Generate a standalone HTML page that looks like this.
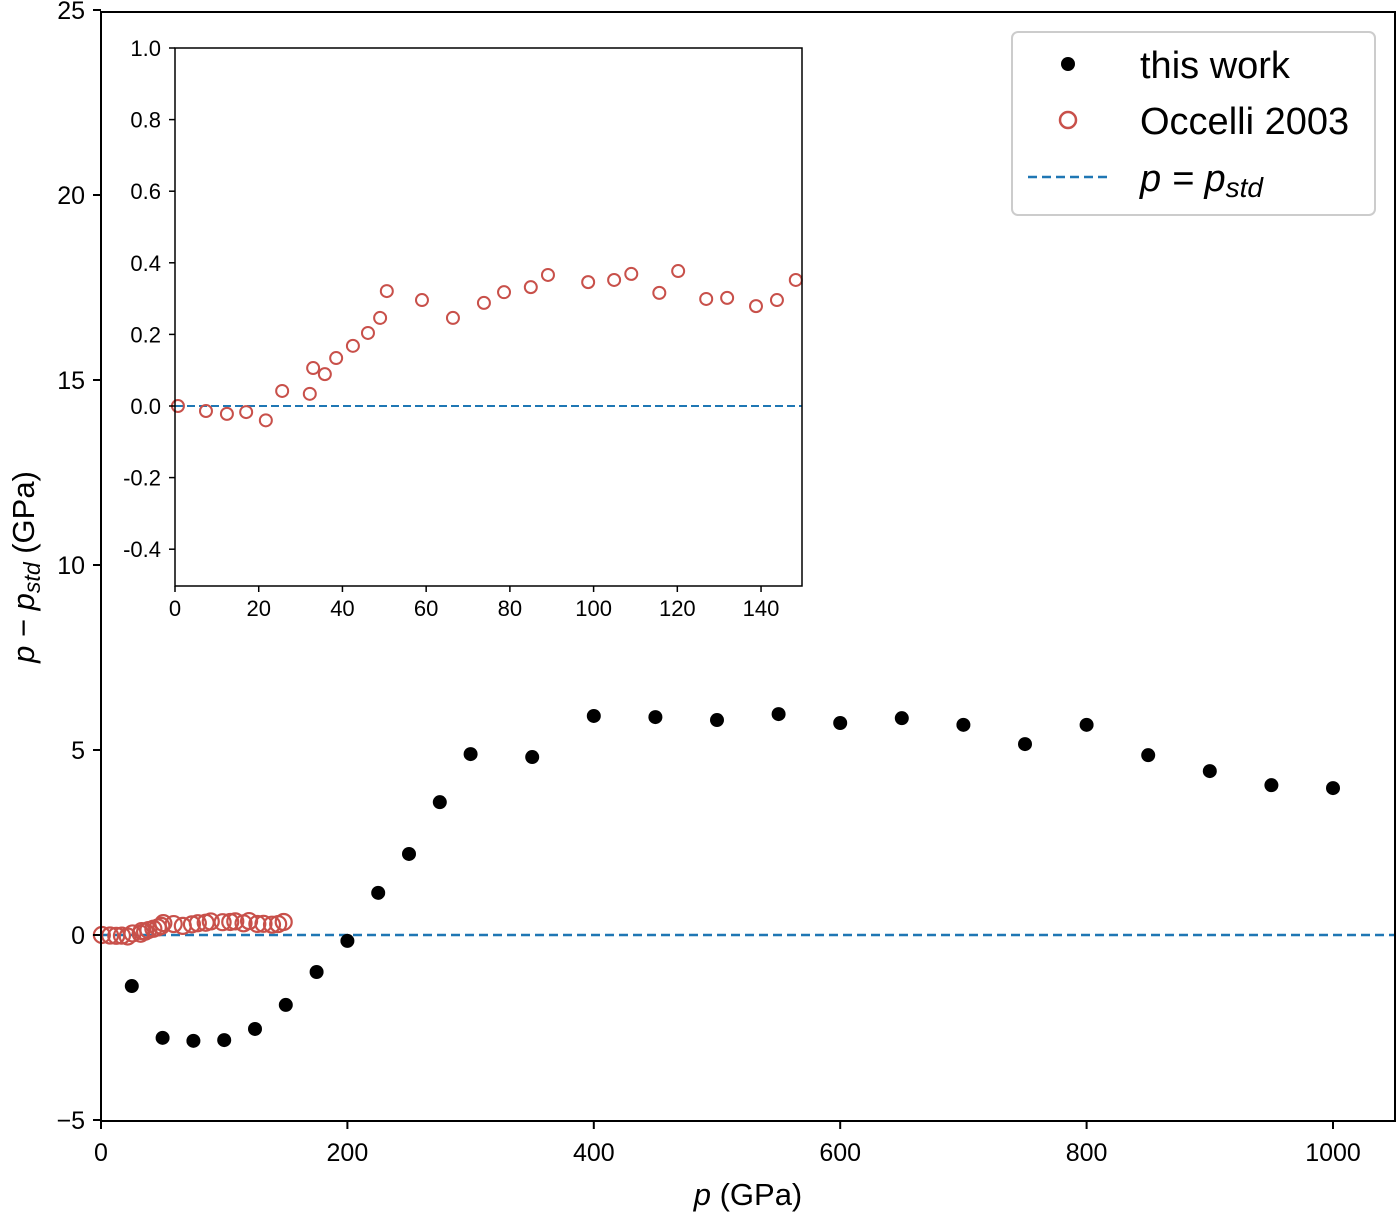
<!DOCTYPE html>
<html><head><meta charset="utf-8"><style>
body{margin:0;background:#fff}
svg{font-family:"Liberation Sans",sans-serif}
</style></head><body>
<svg id="c" width="1400" height="1215" viewBox="0 0 1400 1215">
<g id="main"></g>
<g id="inset"></g>
<g id="legend">
<rect x="1012" y="32" width="363" height="183" rx="6" fill="#fff" stroke="#ccc" stroke-width="2"/>
<circle cx="1068" cy="64" r="7" fill="#000"/>
<text x="1140" y="78" font-size="38">this work</text>
<circle cx="1068" cy="120" r="8" fill="none" stroke="#c8504a" stroke-width="2.5"/>
<text x="1140" y="134" font-size="38">Occelli 2003</text>
<line x1="1028" y1="177" x2="1108" y2="177" stroke="#1f77b4" stroke-width="2.5" stroke-dasharray="9,5"/>
<text x="1140" y="191" font-size="38" font-style="italic">p = p<tspan font-size="28" dy="6">std</tspan></text>
</g>
</svg>
<script>
const blackP=[25,50,75,100,125,150,175,200,225,250,275,300,350,400,450,500,550,600,650,700,750,800,850,900,950,1000];
const blackD=[-1.38,-2.78,-2.86,-2.84,-2.54,-1.89,-1.0,-0.16,1.14,2.19,3.59,4.89,4.81,5.92,5.89,5.81,5.97,5.73,5.86,5.68,5.16,5.68,4.86,4.43,4.05,3.97];
const occP=[0.7,7.4,12.4,17,21.7,25.6,32.2,33,35.8,38.5,42.5,46.1,49,50.6,59,66.4,73.8,78.6,85,89.1,98.7,104.9,109,115.7,120.2,126.9,131.9,138.8,143.8,148.3];
const occD=[0.0,-0.014,-0.022,-0.017,-0.04,0.042,0.034,0.106,0.089,0.134,0.168,0.204,0.246,0.321,0.296,0.246,0.288,0.318,0.332,0.366,0.346,0.352,0.369,0.316,0.377,0.299,0.302,0.279,0.296,0.352];
const mainXTicks=[0,200,400,600,800,1000];
const mainYTicks=[-5,0,5,10,15,20,25];
const insXTicks=[0,20,40,60,80,100,120,140];
const insYTicks=[-0.4,-0.2,0.0,0.2,0.4,0.6,0.8,1.0];
const NS="http://www.w3.org/2000/svg";
function mk(p,t,a){const e=document.createElementNS(NS,t);for(const k in a)e.setAttribute(k,a[k]);p.appendChild(e);return e;}
const mx=v=>101+v*1.232, my=v=>935-v*37;
const M=document.getElementById('main');
let e=mk(M,'line',{x1:mx(0),x2:mx(1050),y1:my(0),y2:my(0),stroke:'#1f77b4','stroke-width':2.5,'stroke-dasharray':'9,5'});


blackP.forEach((p,i)=>{const c=mk(M,'circle',{cx:mx(p),cy:my(blackD[i]),r:7,fill:'#000'});

});
occP.forEach((p,i)=>{const c=mk(M,'circle',{cx:mx(p),cy:my(occD[i]),r:8,fill:'none',stroke:'#c8504a','stroke-width':2.2});

});
e=mk(M,'rect',{x:101,y:12,width:1294,height:1109,fill:'none',stroke:'#000','stroke-width':2});


mainXTicks.forEach(t=>{mk(M,'line',{x1:mx(t),x2:mx(t),y1:1121,y2:1129,stroke:'#000','stroke-width':2});
const tx=mk(M,'text',{x:mx(t),y:1161,'font-size':25,'text-anchor':'middle'});tx.textContent=t;

});
mainYTicks.forEach(t=>{mk(M,'line',{x1:93,x2:101,y1:my(t),y2:my(t),stroke:'#000','stroke-width':2});
const tx=mk(M,'text',{x:85,y:my(t)+9,'font-size':25,'text-anchor':'end'});tx.textContent=t<0?'\u2212'+(-t):t;

});
e=mk(M,'text',{x:748,y:1205,'font-size':31,'text-anchor':'middle'});
e.innerHTML='<tspan font-style="italic">p</tspan> (GPa)';


e=mk(M,'text',{x:0,y:0,'font-size':31,'text-anchor':'middle',transform:'translate(34,567) rotate(-90)'});
e.innerHTML='<tspan font-style="italic">p</tspan> \u2212 <tspan font-style="italic">p</tspan><tspan font-style="italic" font-size="23" dy="6">std</tspan><tspan dy="-6"> (GPa)</tspan>';


const ix=v=>175+v*4.186, iy=v=>406-v*358;
const I=document.getElementById('inset');
e=mk(I,'rect',{x:175,y:48,width:627,height:538,fill:'#fff',stroke:'none'});


e=mk(I,'line',{x1:175,x2:802,y1:iy(0),y2:iy(0),stroke:'#1f77b4','stroke-width':2,'stroke-dasharray':'8,4'});


occP.forEach((p,i)=>{const c=mk(I,'circle',{cx:ix(p),cy:iy(occD[i]),r:6,fill:'none',stroke:'#c8504a','stroke-width':2});

});
e=mk(I,'rect',{x:175,y:48,width:627,height:538,fill:'none',stroke:'#000','stroke-width':1.5});


insXTicks.forEach(t=>{mk(I,'line',{x1:ix(t),x2:ix(t),y1:586,y2:592,stroke:'#000','stroke-width':1.5});
const tx=mk(I,'text',{x:ix(t),y:616,'font-size':22,'text-anchor':'middle'});tx.textContent=t;

});
insYTicks.forEach(t=>{mk(I,'line',{x1:169,x2:175,y1:iy(t),y2:iy(t),stroke:'#000','stroke-width':1.5});
const tx=mk(I,'text',{x:161,y:iy(t)+8,'font-size':22,'text-anchor':'end'});tx.textContent=t.toFixed(1);

});
</script>
</body></html>
